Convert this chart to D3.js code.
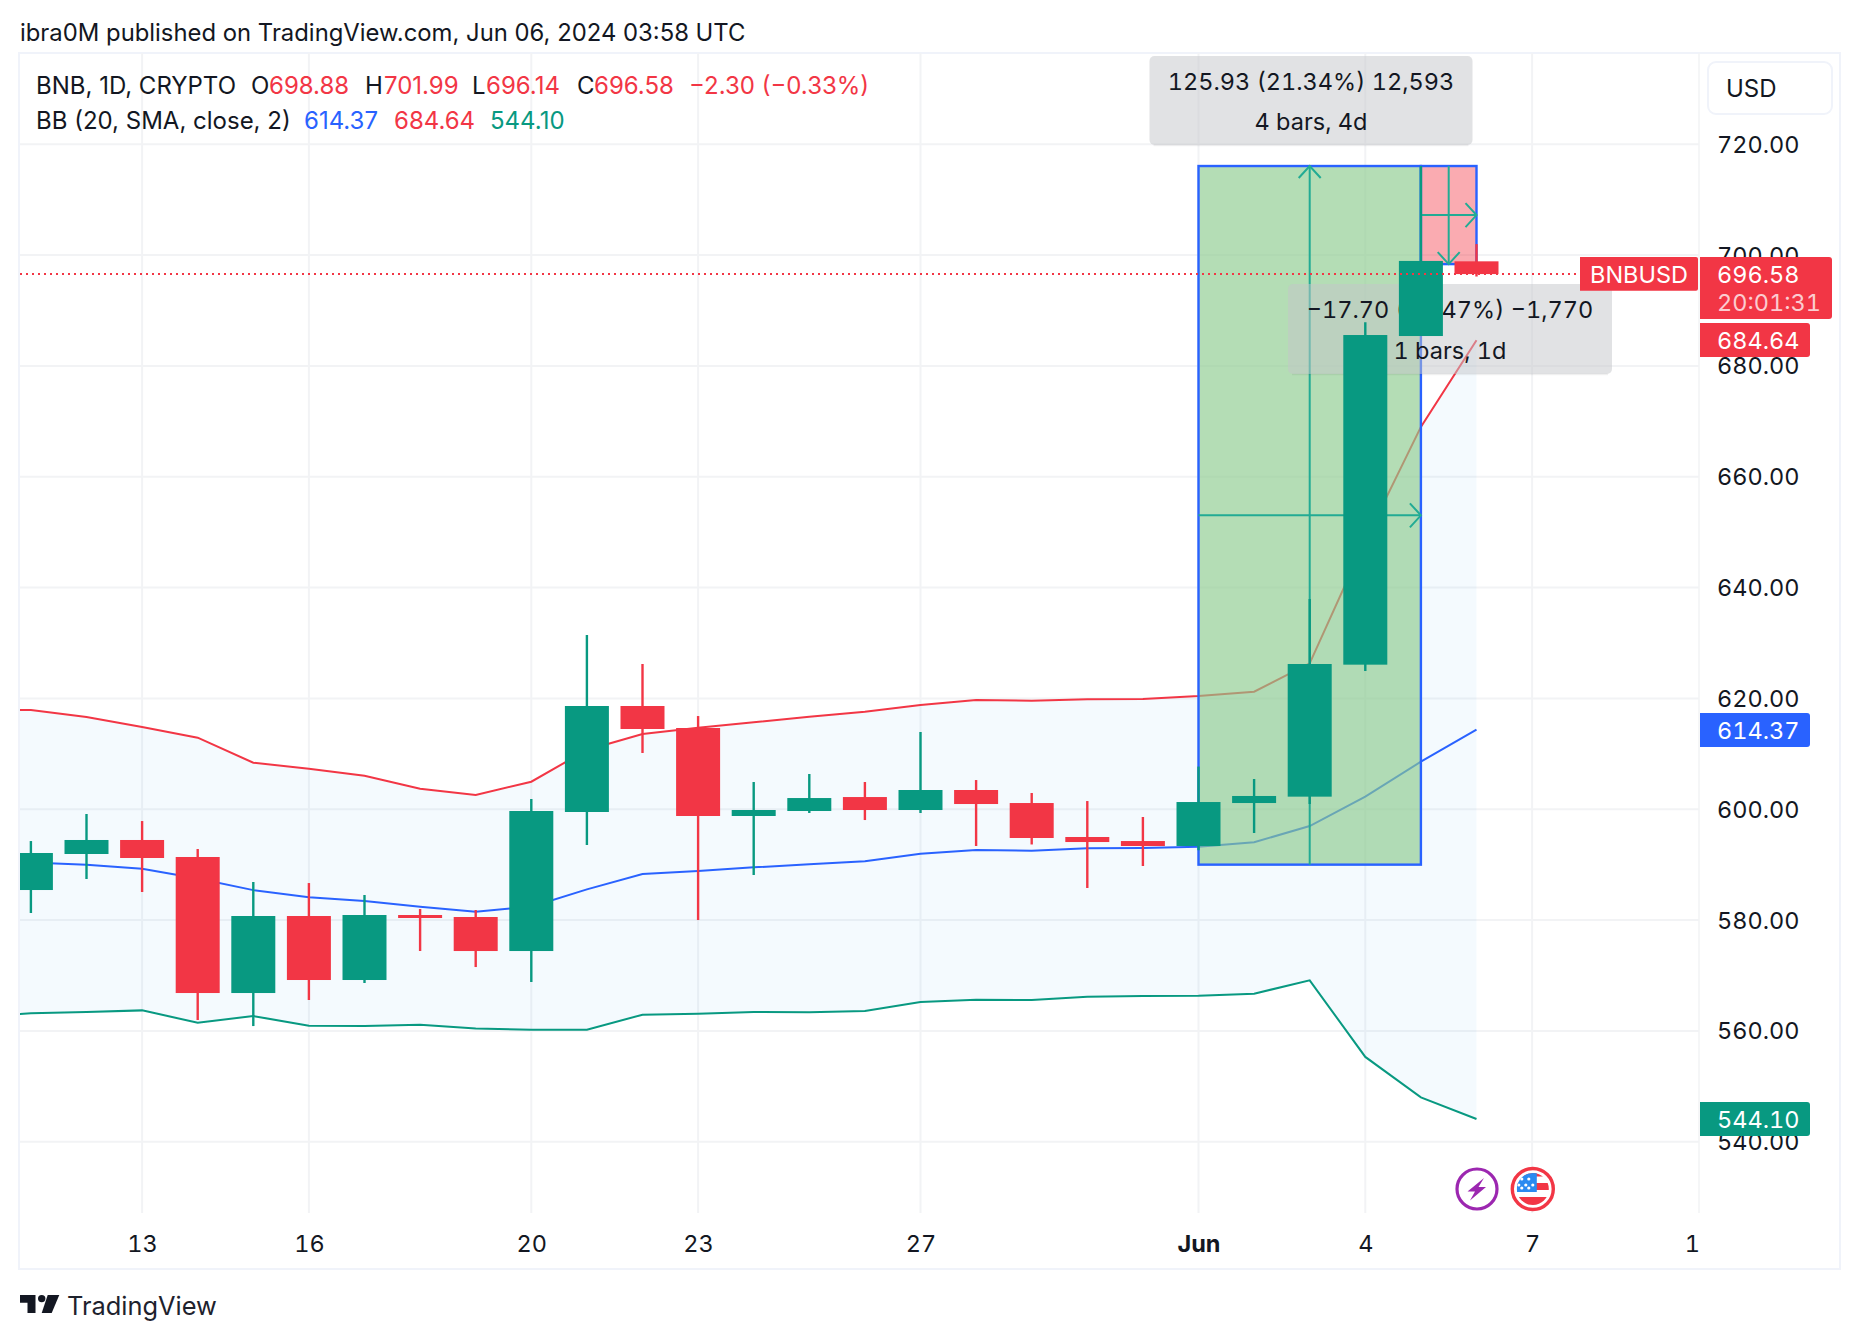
<!DOCTYPE html>
<html><head><meta charset="utf-8">
<script src="https://cdnjs.cloudflare.com/ajax/libs/d3/7.8.5/d3.min.js"></script>
<style>
html,body{margin:0;padding:0;background:#fff}
svg{display:block}
text{font-family:Inter,"Noto Sans",sans-serif;fill:#131722;font-variant-numeric:tabular-nums;font-feature-settings:"tnum" 1}
text.prop{font-variant-numeric:normal;font-feature-settings:normal}
.axis path,.axis line{display:none}
</style></head><body>
<script>
const days=["May 11","May 12","May 13","May 14","May 15","May 16","May 17","May 18","May 19","May 20","May 21","May 22","May 23","May 24","May 25","May 26","May 27","May 28","May 29","May 30","May 31","Jun 1","Jun 2","Jun 3","Jun 4","Jun 5","Jun 6","Jun 7","Jun 8","Jun 9","Jun 10"];
const opens =[585.42,591.92,594.45,591.38,566.83,580.73,569.18,580.91,580.55,574.41,599.50,618.63,614.66,598.78,599.68,602.20,599.86,603.47,601.12,594.99,594.26,593.36,601.12,602.27,626.09,685.40,698.88];
const highs =[594.26,599.14,597.87,592.82,586.87,586.68,584.52,581.99,581.81,601.85,631.44,626.21,616.82,604.91,606.36,604.91,613.94,605.27,602.93,601.48,598.60,607.70,605.46,637.94,687.88,716.08,701.99];
const lows  =[581.27,587.41,585.06,561.96,560.87,565.57,568.64,574.41,571.52,568.82,593.54,610.15,580.00,588.13,599.32,598.05,599.32,593.36,593.64,585.78,589.75,592.60,595.71,600.94,624.95,685.40,696.14];
const closes=[592.10,594.45,591.20,566.83,580.73,569.18,580.91,580.37,574.41,599.68,618.63,614.48,598.78,599.86,602.02,599.86,603.47,600.94,594.81,594.08,593.36,601.30,602.39,626.21,685.58,698.95,696.58];
// Bollinger values; the first entry belongs to May 10, one day left of the visible frame
const bbUpper=[617.90,617.90,616.64,614.84,612.91,608.40,607.32,606.06,603.71,602.57,604.97,610.70,613.58,614.72,615.68,616.70,617.61,618.81,619.71,619.59,619.83,619.89,620.43,621.22,626.33,648.50,669.00,684.64];
const bbBasis=[590.70,590.40,590.00,589.27,587.50,585.40,584.10,583.43,582.41,581.51,582.41,585.54,588.31,588.85,589.51,590.05,590.60,591.98,592.64,592.52,592.94,593.00,593.24,594.03,596.97,602.27,608.58,614.37];
const bbLower=[562.60,563.16,563.40,563.70,561.48,562.68,560.93,560.87,561.12,560.45,560.21,560.21,562.92,563.10,563.40,563.35,563.59,565.20,565.63,565.57,566.17,566.29,566.35,566.71,569.12,555.30,548.00,544.10];
const tickDays=["May 13","May 16","May 20","May 23","May 27","Jun 1","Jun 4","Jun 7","Jun 10"];
const tickLabels=["13","16","20","23","27","Jun","4","7","1"];
const priceTicks=[720,700,680,660,640,620,600,580,560,540];

const GREEN="#089981",RED="#f23645",BLUE="#2962ff",TEAL="#22ab94",GRID="#f2f3f5",BORDER="#f0f3fa",INK="#131722";
const W=1860,H=1340,L=20,R=1699,T=53,B=1213,RIGHT=1840,FOOT=1269;
const x=d3.scalePoint().domain(days).range([30.9,30.9+55.6*30]);
const y=d3.scaleLinear().domain([540,720]).range([1141.7,144.3]);
const svg=d3.select("body").append("svg").attr("width",W).attr("height",H);
svg.append("defs").append("clipPath").attr("id","plot").append("rect").attr("x",L).attr("y",T).attr("width",R-L).attr("height",B-T);
const FS=24,NUM=23.5;

// frame
svg.append("rect").attr("x",L-1).attr("y",T).attr("width",RIGHT-L+1).attr("height",FOOT-T).attr("fill","none").attr("stroke",BORDER).attr("stroke-width",2);
svg.append("line").attr("x1",R).attr("x2",R).attr("y1",T).attr("y2",B).attr("stroke",GRID).attr("stroke-width",1.5);

const plot=svg.append("g").attr("clip-path","url(#plot)");
// grid
plot.selectAll(".gx").data(tickDays.slice(0,-1)).join("line").attr("x1",d=>x(d)).attr("x2",d=>x(d)).attr("y1",T).attr("y2",B).attr("stroke",GRID).attr("stroke-width",2);
plot.selectAll(".gy").data(priceTicks).join("line").attr("x1",L).attr("x2",R).attr("y1",d=>y(d)).attr("y2",d=>y(d)).attr("stroke",GRID).attr("stroke-width",2);

// Bollinger bands
const idx=d3.range(opens.length);
const step=x.step();
const bbIdx=d3.range(bbUpper.length);
const bbX=j=>j===0?x(days[0])-step:x(days[j-1]);
plot.append("path").attr("fill","#2196f3").attr("fill-opacity",.05)
  .attr("d",d3.area().x(bbX).y0(j=>y(bbLower[j])).y1(j=>y(bbUpper[j]))(bbIdx));
const line=a=>d3.line().x(bbX).y(j=>y(a[j]))(bbIdx);
[[bbUpper,RED],[bbBasis,BLUE],[bbLower,GREEN]].forEach(([a,c])=>plot.append("path").attr("d",line(a)).attr("fill","none").attr("stroke",c).attr("stroke-width",2));

// date & price range drawings
function drawing(d0,d1,v0,v1,fill,op,down){
  const x0=x(d0),x1=x(d1),yTop=y(Math.max(v0,v1)),yBot=y(Math.min(v0,v1)),xm=(x0+x1)/2,ym=(yTop+yBot)/2;
  const g=plot.append("g");
  g.append("rect").attr("x",x0).attr("y",yTop).attr("width",x1-x0).attr("height",yBot-yTop).attr("fill",fill).attr("fill-opacity",op).attr("stroke",BLUE).attr("stroke-width",2.4);
  const a=g.append("g").attr("fill","none").attr("stroke",TEAL).attr("stroke-width",2);
  a.append("line").attr("x1",xm).attr("x2",xm).attr("y1",yTop).attr("y2",yBot);
  a.append("line").attr("x1",x0).attr("x2",x1).attr("y1",ym).attr("y2",ym);
  a.append("path").attr("d",`M${x1-11},${ym-12}L${x1},${ym}L${x1-11},${ym+12}`);
  const tip=down?yBot:yTop,s=down?-1:1;
  a.append("path").attr("d",`M${xm-11},${tip+s*12}L${xm},${tip}L${xm+11},${tip+s*12}`);
}
drawing("Jun 1","Jun 5",590,716.08,"rgb(140,203,141)",.65,false);
drawing("Jun 5","Jun 6",698.38,716.08,RED,.42,true);

function noteBox(cx,yTop,w,h,rows,dy){
  const g=plot.append("g");
  g.append("rect").attr("x",cx-w/2).attr("y",yTop).attr("width",w).attr("height",h).attr("rx",5)
   .attr("fill","rgb(195,197,202)").attr("fill-opacity",.5);
  g.append("line").attr("x1",cx-w/2+4).attr("x2",cx+w/2-4).attr("y1",yTop+h+.5).attr("y2",yTop+h+.5).attr("stroke","#000").attr("stroke-opacity",.06).attr("stroke-width",1.5);
  rows.forEach((t,k)=>g.append("text").attr("x",cx).attr("y",yTop+dy[k]).attr("text-anchor","middle").attr("dominant-baseline","central").attr("font-size",NUM).text(t));
}
noteBox(1311,56,323,89,["125.93 (21.34%) 12,593","4 bars, 4d"],[25.5,65.5]);
noteBox(1450,284,324,90,["\u221217.70 (\u22122.47%) \u22121,770","1 bars, 1d"],[25,66]);

// candles
const BW=44;
const col=i=>closes[i]>=opens[i]?GREEN:RED;
plot.selectAll(".wick").data(idx).join("line").attr("x1",i=>x(days[i])).attr("x2",i=>x(days[i])).attr("y1",i=>y(highs[i])).attr("y2",i=>y(lows[i])).attr("stroke",col).attr("stroke-width",2.4);
plot.selectAll(".body").data(idx).join("rect").attr("x",i=>x(days[i])-BW/2).attr("width",BW)
  .attr("y",i=>y(Math.max(opens[i],closes[i]))).attr("height",i=>Math.max(3,Math.abs(y(opens[i])-y(closes[i])))).attr("fill",col);

// last price line
plot.append("line").attr("x1",L).attr("x2",1580).attr("y1",y(696.58)).attr("y2",y(696.58)).attr("stroke",RED).attr("stroke-width",2).attr("stroke-dasharray","2 4");

// icons
const ic=svg.append("g");
ic.append("circle").attr("cx",1477).attr("cy",1189).attr("r",20).attr("fill","#fff").attr("stroke","#9c27b0").attr("stroke-width",3.2);
ic.append("path").attr("fill","#9c27b0").attr("d","M1484,1178L1467.5,1191.5H1475L1470,1200.5L1486,1187H1478.5Z");
const fx=1532.8,fy=1189;
ic.append("circle").attr("cx",fx).attr("cy",fy).attr("r",20.5).attr("fill","#fff").attr("stroke",RED).attr("stroke-width",3.4);
svg.select("defs").append("clipPath").attr("id","flag").append("circle").attr("cx",fx).attr("cy",fy).attr("r",16);
const fl=ic.append("g").attr("clip-path","url(#flag)");
fl.append("rect").attr("x",fx-16).attr("y",fy-16).attr("width",36).attr("height",3.5).attr("fill",RED);
fl.append("rect").attr("x",fx-16).attr("y",fy-6).attr("width",36).attr("height",7).attr("fill",RED);
fl.append("rect").attr("x",fx-16).attr("y",fy+8).attr("width",36).attr("height",9).attr("fill",RED);
fl.append("rect").attr("x",fx-16).attr("y",fy-16).attr("width",20).attr("height",19).attr("fill","#2b8af0");
[[-11,-10],[-4,-10],[-14,-4],[-7,-4],[0,-4],[-11,-1],[-4,-1]].forEach(([a,b])=>fl.append("circle").attr("cx",fx+a).attr("cy",fy+b).attr("r",1.6).attr("fill","#fff"));

// axes
const yAxis=svg.append("g").attr("class","axis").attr("transform",`translate(${R},0)`).call(d3.axisRight(y).tickValues(priceTicks).tickFormat(d3.format(".2f")).tickSize(0).tickPadding(18));
yAxis.selectAll("text").attr("font-size",NUM).attr("dy",".34em");
const xAxis=svg.append("g").attr("class","axis").attr("transform",`translate(0,${B})`).call(d3.axisBottom(x).tickValues(tickDays).tickFormat(d=>tickLabels[tickDays.indexOf(d)]).tickSize(0).tickPadding(0));
xAxis.selectAll("text").attr("font-size",NUM).attr("y",31).attr("dy",".36em").attr("font-weight",d=>d==="Jun 1"?700:400).attr("dx",d=>d==="Jun 10"?-7:0);

// price tags
function tag(x0,x1,y0,y1,c,r){
  svg.append("path").attr("fill",c).attr("d",`M${x0},${y0}H${x1-r}Q${x1},${y0} ${x1},${y0+r}V${y1-r}Q${x1},${y1} ${x1-r},${y1}H${x0}Z`);
}
const tagText=(tx,ty,t,op)=>svg.append("text").attr("x",tx).attr("y",ty).attr("dominant-baseline","central").attr("font-size",NUM).style("fill","#fff").style("fill-opacity",op||1).text(t);
tag(1580,1698,257,290.7,RED,2); tagText(1590,274,"BNBUSD");
tag(1700,1832,257,319,RED,3); tagText(1717,274,"696.58"); tagText(1717,302.5,"20:01:31",.75);
tag(1700,1810,323,357,RED,3); tagText(1717,340,"684.64");
tag(1700,1810,713,747,BLUE,3); tagText(1717,730,"614.37");
tag(1700,1810,1102,1136,GREEN,3); tagText(1717,1119,"544.10");

// currency button
svg.append("rect").attr("x",1708).attr("y",62).attr("width",124).attr("height",52).attr("rx",8).attr("fill","#fff").attr("stroke",BORDER).attr("stroke-width",2);
svg.append("text").attr("x",1726).attr("y",88).attr("dominant-baseline","central").attr("font-size",FS).text("USD");

// header + legend
const put=(tx,ty,t,c,fs)=>svg.append("text").attr("class","prop").attr("x",tx).attr("y",ty).attr("dominant-baseline","central").attr("font-size",fs||FS).style("fill",c||INK).text(t);
put(20,32,"ibra0M published on TradingView.com, Jun 06, 2024 03:58 UTC",INK,23.85);
put(36,85,"BNB, 1D, CRYPTO");put(251,85,"O");put(269,85,"698.88",RED);put(365,85,"H");put(384,85,"701.99",RED);
put(472,85,"L");put(486,85,"696.14",RED);put(577,85,"C");put(594,85,"696.58",RED);put(689,85,"\u22122.30 (\u22120.33%)",RED);
put(36,120,"BB (20, SMA, close, 2)");put(304,120,"614.37",BLUE);put(394,120,"684.64",RED);put(490,120,"544.10",GREEN);

// footer logo
const logoC="#131722";
svg.append("path").attr("fill",logoC).attr("d","M20,1295H35.5V1313H27.5V1302.7H20Z");
svg.append("path").attr("fill",logoC).attr("d","M47.7,1295H59.3L51.7,1313H41.7Z");
svg.append("circle").attr("cx",41.7).attr("cy",1298.6).attr("r",3.7).attr("fill",logoC);
put(67,1305,"TradingView","#1e222d",25.4);
</script>
</body></html>
